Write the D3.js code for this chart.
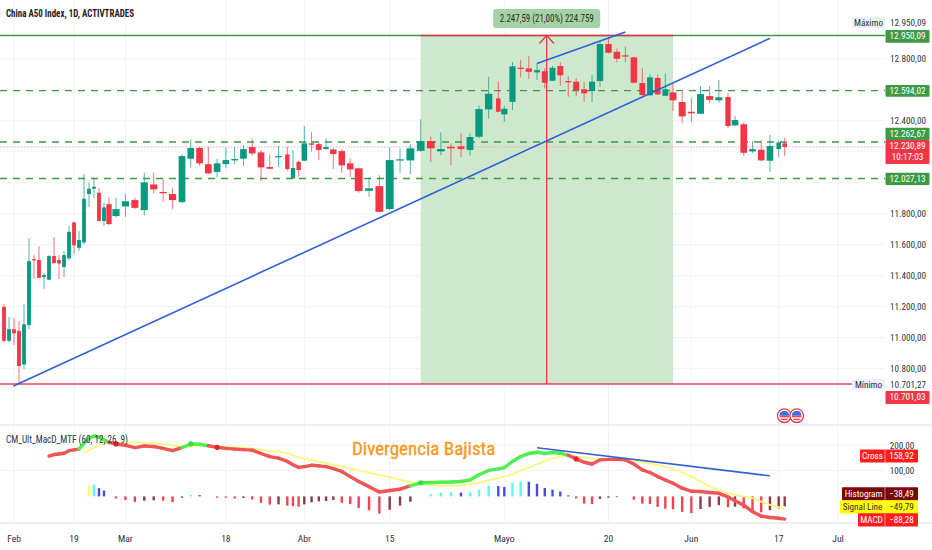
<!DOCTYPE html>
<html><head><meta charset="utf-8">
<script src="https://cdn.jsdelivr.net/npm/d3@7/dist/d3.min.js"></script>
<style>html,body{margin:0;padding:0;background:#fff;overflow:hidden}svg{display:block;font-family:"Liberation Sans Narrow","Roboto Condensed","DejaVu Sans Condensed",sans-serif}</style>
</head><body><svg id="c" width="932" height="550"></svg>
<script>
const opens=[11199,10980,11055,11044,10827,11081,11507,11501,11391,11374,11527,11501,11456,11512,11744,11580,11615,11927,11961,11935,11752,11862,11785,11847,11888,11823,11989,11940,11927,11875,12155,12224,12120,12069,12120,12144,12155,12230,12196,12101,12167,12183,12028,12135,12142,12254,12249,12217,12215,12204,12125,12093,11948,11978,11830,12146,12144,12206,12269,12202,12232,12235,12211,12297,12473,12544,12441,12522,12742,12738,12712,12719,12658,12753,12656,12652,12603,12592,12656,12895,12845,12822,12809,12643,12564,12676,12561,12583,12521,12458,12445,12559,12532,12553,12370,12377,12202,12213,12142,12217,12254];
const closes=[10980,11055,11028,10817,11086,11494,11499,11386,11404,11527,11481,11479,11533,11683,11596,11630,11896,11961,11974,11754,11841,11733,11830,11880,11838,12002,11957,11933,11888,12172,12224,12125,12060,12125,12146,12153,12217,12189,12099,12090,12172,12088,12095,12082,12254,12245,12211,12230,12185,12112,12086,11946,11964,11812,12146,12151,12222,12269,12222,12217,12222,12217,12295,12475,12574,12458,12477,12751,12736,12716,12727,12645,12742,12693,12650,12598,12577,12652,12895,12839,12800,12816,12645,12566,12680,12570,12603,12532,12428,12448,12572,12535,12551,12366,12404,12193,12217,12144,12237,12260,12230.89];
const highs=[11217,11135,11126,11107,11217,11643,11533,11591,11417,11533,11649,11533,11559,11720,11748,11688,12056,12000,12032,11965,11873,11909,11903,11927,11903,12064,12064,12024,11967,12183,12280,12232,12232,12155,12226,12232,12243,12286,12211,12183,12237,12232,12211,12142,12366,12325,12258,12286,12222,12215,12157,12099,12034,12049,12226,12222,12249,12409,12297,12325,12254,12319,12319,12497,12684,12652,12495,12779,12792,12818,12770,12738,12753,12777,12688,12674,12652,12695,12910,12938,12867,12878,12813,12738,12699,12697,12706,12641,12587,12548,12624,12624,12663,12577,12432,12390,12269,12275,12308,12271,12290];
const lows=[10971,10973,10952,10703,10797,11055,11380,11385,11315,11372,11478,11380,11391,11501,11537,11559,11604,11843,11901,11748,11722,11727,11774,11780,11830,11789,11931,11877,11830,11870,12097,12109,12056,12034,12093,12118,12107,12176,12011,12086,12103,12077,12026,12038,12140,12200,12146,12215,12088,12064,12038,11935,11909,11809,11823,12064,12054,12200,12133,12178,12114,12167,12176,12286,12413,12454,12393,12469,12680,12669,12663,12609,12656,12626,12555,12559,12523,12519,12619,12835,12777,12779,12641,12561,12561,12566,12559,12464,12383,12393,12443,12512,12516,12353,12366,12172,12193,12140,12069,12166,12172];

const macd=[null,null,null,null,null,null,null,null,null,157,163,165,168,178,181,184,207,226,235,230,220,210,204,199,190,196,194,187,178,190,204,203,197,191,187,184,182,180,167,155,149,136,123,113,116,121,119,116,108,97,77,58,38,17,23,28,41,53,54,55,56,58,64,84,101,107,112,136,155,167,172,167,171,168,160,146,133,126,142,144,144,142,126,103,93,77,64,51,32,20,19,15,12,-2,-17,-34,-59,-77,-82,-85,-88.28];
const signal=[null,null,null,null,null,null,null,null,null,null,null,null,null,null,null,null,170,181,189,198,204,209,211,209,209,209,207,203,198,194,195,199,196,194,191,191,190,186,181,177,174,167,160,152,146,142,134,129,123,116,108,101,93,84,75,64,56,51,45,42,40,42,47,53,62,71,77,86,101,112,125,136,148,155,159,155,152,148,145,145,147,146,139,132,128,123,116,106,94,77,58,38,25,12,6,-1,-7,-20,-33,-42,-49.79];
const hist=[null,null,null,null,null,null,null,null,null,null,null,null,null,null,null,null,null,43,45,32,23,null,-8,-14,-22,-17,-15,-17,-22,-5,6,5,null,-5,-5,-8,-6,-12,-25,-32,-31,-36,-38,-40,-31,-23,-19,-18,-14,-25,-30,-45,-54,-67,-52,-36,-21,null,9,15,16,15,16,26,41,40,37,52,58,57,49,33,26,19,4,-8,-28,-30,-10,-5,-3,null,-13,-28,-30,-41,-48,-50,-60,-65,-49,-41,-34,-42,-40,-47,-58,-62,-54,-47,-38.49];

const priceTickLabels=[12800,12400,11800,11600,11400,11200,11000,10800];
const priceGridTicks=[12800,12600,12400,12200,12000,11800,11600,11400,11200,11000,10800];
const macdTicks=[200,100];
const timeTicks=[{bar:2,label:"Feb"},{bar:14,label:"19"},{bar:23,label:"Mar"},{bar:34,label:"18"},{bar:44,label:"Abr"},{bar:54,label:"15"},{bar:66,label:"Mayo"},{bar:79,label:"20"},{bar:89,label:"Jun"},{bar:99,label:"17"},{bar:106,label:"Jul"}];

const high=12950.09, low=10701.03, last=12230.89;
const dashedLevels=[12594.02,12262.67,12027.13];
const trendMain=[{b:1.9,p:10688},{b:98,p:12932}];
const trendTop=[{b:70,p:12770},{b:81,p:12973}];
const trendMacd=[{b:70,v:189},{b:98,v:80}];
const range={start:57,end:87,arrow:71.25};

const fmt=d3.formatLocale({decimal:",",thousands:".",grouping:[3],currency:["",""]}).format(",.2f");
const barAnchors=[0,21,22,29,41,44,48,51,57,61,63,65,66,70,73,78,83,87,93,94,99,100,106];
const pxAnchors=[4,109,116,182,287.3,304.3,333.3,358.7,420.7,461,479,498.3,504.3,537,560.3,600,642.3,673,728,735,778.7,784.7,838];
const x=d3.scaleLinear().domain(barAnchors).range(pxAnchors);
const y=d3.scaleLinear().domain([high,low]).range([35.5,384]);
const ym=d3.scaleLinear().domain([200,100]).range([445,470.7]);
const PLOT_R=885, NUM=9.2;

const UP="#089981",DOWN="#f23645",GREEN="#3d9b45",RED="#f23645",BLUE="#3060d8",TXT="#2f333c";
const svg=d3.select("#c");

const grid=svg.append("g").attr("stroke","#f1f3f8").attr("stroke-width",1);
grid.selectAll(".h").data(priceGridTicks).join("line").attr("x1",0).attr("x2",PLOT_R).attr("y1",d=>y(d)).attr("y2",d=>y(d));
grid.selectAll(".t").data(timeTicks).join("line").attr("x1",d=>x(d.bar)).attr("x2",d=>x(d.bar)).attr("y1",0).attr("y2",523);
grid.selectAll(".m").data(macdTicks).join("line").attr("x1",0).attr("x2",PLOT_R).attr("y1",d=>ym(d)).attr("y2",d=>ym(d));
[425,523].forEach(v=>svg.append("line").attr("x1",0).attr("x2",932).attr("y1",v).attr("y2",v).attr("stroke","#eceef3").attr("stroke-width",2));

svg.append("rect").attr("x",x(range.start)).attr("width",x(range.end)-x(range.start)).attr("y",y(high)).attr("height",y(low)-y(high)).attr("fill","#cde8cd");
svg.append("line").attr("x1",0).attr("x2",PLOT_R).attr("y1",y(high)).attr("y2",y(high)).attr("stroke",GREEN).attr("stroke-width",1.4);
svg.append("line").attr("x1",x(range.start)).attr("x2",x(range.end)).attr("y1",y(high)).attr("y2",y(high)).attr("stroke","#e2394a").attr("stroke-width",1.4);
svg.selectAll(".lvl").data(dashedLevels).join("line").attr("x1",0).attr("x2",PLOT_R).attr("y1",d=>y(d)).attr("y2",d=>y(d)).attr("stroke",GREEN).attr("stroke-width",1.3).attr("stroke-dasharray","7,6");
svg.append("line").attr("x1",0).attr("x2",PLOT_R).attr("y1",y(last)).attr("y2",y(last)).attr("stroke","#f6a5ad").attr("stroke-width",1).attr("stroke-dasharray","1.5,1.5");
svg.append("line").attr("x1",0).attr("x2",855).attr("y1",y(low)).attr("y2",y(low)).attr("stroke","#d84a55").attr("stroke-width",1.6);

const idx=d3.range(opens.length);
const spacing=i=>i<opens.length-1?x(i+1)-x(i):x(i)-x(i-1);
const color=i=>closes[i]>=opens[i]?UP:DOWN;
const cg=svg.append("g");
cg.selectAll(".w").data(idx).join("line").attr("x1",x).attr("x2",x).attr("y1",i=>y(highs[i])).attr("y2",i=>y(lows[i])).attr("stroke",color).attr("stroke-opacity",.7).attr("stroke-width",1);
cg.selectAll(".b").data(idx).join("rect").attr("x",i=>x(i)-Math.max(3,spacing(i)*.76)/2).attr("width",i=>Math.max(3,spacing(i)*.76))
 .attr("y",i=>y(Math.max(opens[i],closes[i]))).attr("height",i=>Math.max(1.2,Math.abs(y(opens[i])-y(closes[i])))).attr("fill",color);

const ax=x(range.arrow);
svg.append("line").attr("x1",ax).attr("x2",ax).attr("y1",y(high)).attr("y2",y(low)).attr("stroke","#e2394a").attr("stroke-width",1.3);
svg.append("path").attr("d",d3.line()([[ax-7.3,y(high)+8],[ax,y(high)],[ax+7.3,y(high)+8]])).attr("fill","none").attr("stroke","#e2394a").attr("stroke-width",1.3);

const tl=d3.line().x(d=>x(d.b)).y(d=>y(d.p));
[trendMain,trendTop].forEach(t=>svg.append("path").attr("d",tl(t)).attr("fill","none").attr("stroke",BLUE).attr("stroke-width",1.6));

svg.append("rect").attr("x",ax-53.5).attr("y",9).attr("width",107).attr("height",19).attr("rx",3).attr("fill","#a5d2a5");
svg.append("text").attr("x",ax).attr("y",22).attr("text-anchor","middle").attr("font-size",10).attr("textLength",94).attr("lengthAdjust","spacingAndGlyphs").attr("fill","#1f3326").text("2.247,59 (21,00%) 224.759");

svg.append("text").attr("x",6).attr("y",16.5).attr("font-size",10.5).attr("font-weight",700).attr("textLength",128).attr("lengthAdjust","spacingAndGlyphs").attr("fill","#1a1e26").text("China A50 Index, 1D, ACTIVTRADES");

let prev=0;
const histColor=hist.map((v,i)=>{ if(v==null){prev=0;return null;} let c; const first=hist.findIndex(h=>h!=null)===i;
  if(first)c="#ffff66"; else if(v>0)c=v>=prev?"#5ff5f5":"#4a4ae0"; else c=v<=prev?"#ee4455":"#8f3a45"; prev=v; return c;});
svg.append("g").selectAll("rect").data(idx.filter(i=>hist[i]!=null)).join("rect").attr("x",i=>x(i)-1.2).attr("width",2.4)
 .attr("y",i=>Math.min(ym(0),ym(hist[i]))).attr("height",i=>Math.abs(ym(hist[i])-ym(0))).attr("fill",i=>histColor[i]);

const defined=idx.filter(i=>signal[i]!=null);
svg.append("path").attr("d",d3.line().x(x).y(i=>ym(signal[i])).curve(d3.curveLinear)(defined)).attr("fill","none").attr("stroke","#fbf87a").attr("stroke-width",1.8);
const mi=idx.filter(i=>macd[i]!=null);
const bull=i=>signal[i]!=null&&macd[i]>=signal[i];
const seg=svg.append("g").attr("fill","none").attr("stroke-width",3.4).attr("stroke-linecap","round");
mi.slice(0,-1).forEach(i=>{ seg.append("path").attr("d",d3.line().x(x).y(j=>ym(macd[j]))([i,i+1])).attr("stroke",(bull(i+1))?"#4eef4e":"#ef5555");});
mi.slice(1).forEach(i=>{ if(signal[i-1]!=null&&bull(i)!==bull(i-1)) svg.append("circle").attr("cx",x(i)).attr("cy",ym(macd[i])).attr("r",2.6).attr("fill",bull(i)?"#35e035":"#f02020");});
svg.append("path").attr("d",d3.line().x(d=>x(d.b)).y(d=>ym(d.v))(trendMacd)).attr("fill","none").attr("stroke",BLUE).attr("stroke-width",1.5);

svg.append("text").attr("x",6).attr("y",442.5).attr("font-size",10).attr("textLength",122).attr("lengthAdjust","spacingAndGlyphs").attr("fill","#2f333c").text("CM_Ult_MacD_MTF (60, 12, 26, 9)");
svg.append("text").attr("x",352).attr("y",455).attr("font-size",19).attr("fill","#f59a23").attr("stroke","#f59a23").attr("stroke-width",.35).text("Divergencia Bajista");

[784.3,796.7].forEach((cx,k)=>{ const cy=415.7,g=svg.append("g");
 g.append("circle").attr("cx",cx).attr("cy",cy).attr("r",6.8).attr("fill","#fff").attr("stroke","#e8394a").attr("stroke-width",1.3);
 g.append("clipPath").attr("id","fl"+k).append("circle").attr("cx",cx).attr("cy",cy).attr("r",5);
 const f=g.append("g").attr("clip-path",`url(#fl${k})`);
 f.append("rect").attr("x",cx-5).attr("y",cy-5).attr("width",10).attr("height",10).attr("fill","#fff");
 f.append("rect").attr("x",cx-5).attr("y",cy-5).attr("width",10).attr("height",5).attr("fill","#3f6fe0");
 f.append("rect").attr("x",cx-5).attr("y",cy).attr("width",10).attr("height",1.6).attr("fill","#ee4455");
 f.append("rect").attr("x",cx-5).attr("y",cy+3).attr("width",10).attr("height",1.6).attr("fill","#ee4455");
});

const AX_X=908;
svg.selectAll(".pt").data(priceTickLabels).join("text").attr("x",AX_X).attr("y",d=>y(d)+3.5).attr("text-anchor","middle").attr("font-size",NUM).attr("fill",TXT).text(fmt);
svg.selectAll(".mt").data(macdTicks).join("text").attr("x",902).attr("y",d=>ym(d)+3.5).attr("text-anchor","middle").attr("font-size",NUM).attr("fill",TXT).text(fmt);
svg.selectAll(".tt").data(timeTicks).join("text").attr("x",d=>x(d.bar)).attr("y",542).attr("text-anchor","middle").attr("font-size",9.6).attr("fill",TXT).text(d=>d.label);

function tag(v,fill,top,h){ svg.append("rect").attr("x",885.5).attr("y",top).attr("width",44).attr("height",h).attr("rx",1).attr("fill",fill);
 svg.append("text").attr("x",907.5).attr("y",top+9.4).attr("text-anchor","middle").attr("font-size",NUM).attr("fill","#fff").text(fmt(v)); }
tag(high,GREEN,30,12.7); tag(12594.02,GREEN,85,11.7); tag(12262.67,GREEN,127.7,12.3); tag(12027.13,GREEN,172.7,12.3);
tag(last,RED,140,24); svg.append("text").attr("x",907.5).attr("y",160).attr("text-anchor","middle").attr("font-size",NUM).attr("fill","#fff").text("10:17:03");
tag(low,RED,391,13);

svg.append("rect").attr("x",852).attr("y",17).attr("width",33).attr("height",11).attr("fill","#e9f0fb");
svg.append("text").attr("x",868.5).attr("y",25.7).attr("text-anchor","middle").attr("font-size",NUM).attr("fill",TXT).text("Máximo");
svg.append("text").attr("x",AX_X).attr("y",25.7).attr("text-anchor","middle").attr("font-size",NUM).attr("fill",TXT).text(fmt(high));
svg.append("rect").attr("x",852).attr("y",379).attr("width",33).attr("height",10.5).attr("fill","#e9f0fb");
svg.append("text").attr("x",868.5).attr("y",387.7).attr("text-anchor","middle").attr("font-size",NUM).attr("fill",TXT).text("Mínimo");
svg.append("text").attr("x",AX_X).attr("y",387.7).attr("text-anchor","middle").attr("font-size",NUM).attr("fill",TXT).text("10.701,27");

function mtag(name,val,left,top,fill,color){ svg.append("rect").attr("x",left).attr("y",top).attr("width",918-left).attr("height",13.2).attr("rx",1).attr("fill",fill);
 svg.append("line").attr("x1",885).attr("x2",885).attr("y1",top).attr("y2",top+13.2).attr("stroke","#fff").attr("stroke-opacity",.5);
 svg.append("text").attr("x",(left+885)/2).attr("y",top+9.6).attr("text-anchor","middle").attr("font-size",NUM).attr("fill",color).text(name);
 svg.append("text").attr("x",901.5).attr("y",top+9.6).attr("text-anchor","middle").attr("font-size",NUM).attr("fill",color).text(fmt(val).replace("-","−")); }
mtag("Cross",158.92,860,449.4,"#ff1e1e","#fff");
mtag("Histogram",hist[hist.length-1],842,487.3,"#7a0505","#fff");
mtag("Signal Line",signal[signal.length-1],840,500.3,"#ffff00","#333");
mtag("MACD",macd[macd.length-1],858,513.3,"#ff1e1e","#fff");
</script></body></html>
